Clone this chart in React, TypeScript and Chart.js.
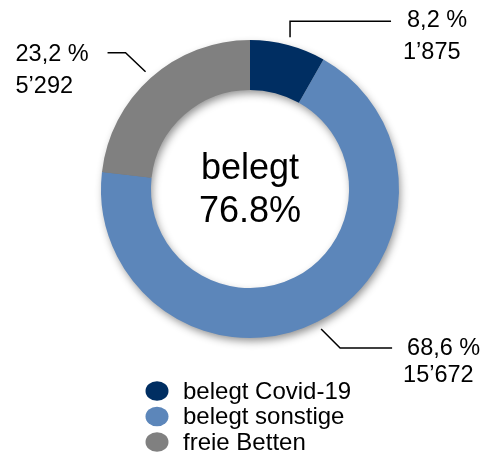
import React, { useEffect, useRef } from "react";
import { Chart, registerables } from "chart.js";

Chart.register(...registerables);

const categories = ["belegt Covid-19", "belegt sonstige", "freie Betten"];
const bedCounts = [1875, 15672, 5292];
const percentLabels = ["8,2 %", "68,6 %", "23,2 %"];
const countLabels = ["1’875", "15’672", "5’292"];
const centerLines = ["belegt", "76.8%"];
const colors = ["#002e62", "#5c86ba", "#808080"];

const FONT = "'Liberation Sans', Arial, sans-serif";

const shadowPlugin = {
  id: "ringShadow",
  beforeDatasetsDraw(chart: any) {
    const meta = chart.getDatasetMeta(0);
    const a = meta.data[0];
    if (!a) return;
    const { x, y, outerRadius, innerRadius } = a;
    const ctx = chart.ctx;
    ctx.save();
    ctx.shadowColor = "rgba(0,0,0,0.45)";
    ctx.shadowBlur = 9;
    ctx.shadowOffsetX = 2;
    ctx.shadowOffsetY = 4;
    ctx.fillStyle = "#777";
    ctx.beginPath();
    ctx.arc(x, y, outerRadius - 1, 0, Math.PI * 2);
    ctx.arc(x, y, innerRadius + 1, 0, Math.PI * 2, true);
    ctx.closePath();
    ctx.fill("evenodd");
    ctx.restore();
  },
};

const annotPlugin = {
  id: "annot",
  afterDraw(chart: any) {
    const ctx = chart.ctx;
    const meta = chart.getDatasetMeta(0);
    const arcs = meta.data;
    if (!arcs.length) return;
    const cx = arcs[0].x;
    const cy = arcs[0].y;
    const R = arcs[0].outerRadius;

    // center text
    ctx.save();
    ctx.fillStyle = "#000";
    ctx.textAlign = "center";
    ctx.textBaseline = "alphabetic";
    ctx.font = `36px ${FONT}`;
    ctx.fillText(centerLines[0], cx, cy - 10);
    ctx.fillText(centerLines[1], cx, cy + 33);
    ctx.restore();

    // leader lines and labels
    const mid = (i: number) => (arcs[i].startAngle + arcs[i].endAngle) / 2;
    const startPt = (i: number) => {
      const m = mid(i);
      return { x: cx + Math.cos(m) * (R + 8), y: cy + Math.sin(m) * (R + 8) };
    };
    ctx.save();
    ctx.strokeStyle = "#000";
    ctx.lineWidth = 1.5;
    ctx.fillStyle = "#000";
    ctx.font = `23.5px ${FONT}`;
    ctx.textAlign = "left";
    ctx.textBaseline = "alphabetic";

    // segment 0 (navy) top-right
    let p = startPt(0);
    ctx.beginPath();
    ctx.moveTo(p.x, p.y);
    ctx.lineTo(p.x, p.y - 16);
    ctx.lineTo(p.x + 101, p.y - 16);
    ctx.stroke();
    ctx.fillText(percentLabels[0], p.x + 117, p.y - 10);
    ctx.fillText(countLabels[0], p.x + 113, p.y + 22);

    // segment 1 (blue) bottom-right
    p = startPt(1);
    ctx.beginPath();
    ctx.moveTo(p.x, p.y);
    ctx.lineTo(p.x + 19, p.y + 19);
    ctx.lineTo(p.x + 71, p.y + 19);
    ctx.stroke();
    ctx.fillText(percentLabels[1], p.x + 86, p.y + 26);
    ctx.fillText(countLabels[1], p.x + 82, p.y + 53);

    // segment 2 (gray) top-left
    p = startPt(2);
    ctx.beginPath();
    ctx.moveTo(p.x, p.y);
    ctx.lineTo(p.x - 20, p.y - 19);
    ctx.lineTo(p.x - 38, p.y - 19);
    ctx.stroke();
    ctx.fillText(percentLabels[2], p.x - 130, p.y - 11);
    ctx.fillText(countLabels[2], p.x - 130, p.y + 21);
    ctx.restore();

    // legend
    ctx.save();
    ctx.font = `24px ${FONT}`;
    ctx.textAlign = "left";
    ctx.textBaseline = "alphabetic";
    const lx = 157;
    const ly0 = 391;
    const step = 25.5;
    categories.forEach((c, i) => {
      const y = ly0 + i * step;
      ctx.fillStyle = colors[i];
      ctx.beginPath();
      ctx.ellipse(lx, y, 11.5, 9.8, 0, 0, Math.PI * 2);
      ctx.fill();
      ctx.fillStyle = "#000";
      ctx.fillText(c, 183, y + 7.5);
    });
    ctx.restore();
  },
};

export default function App() {
  const ref = useRef<HTMLCanvasElement | null>(null);
  useEffect(() => {
    if (!ref.current) return;
    const chart = new Chart(ref.current, {
      type: "doughnut",
      data: {
        labels: categories,
        datasets: [
          {
            data: bedCounts,
            backgroundColor: colors,
            borderWidth: 0,
          },
        ],
      },
      options: {
        animation: false,
        responsive: true,
        maintainAspectRatio: false,
        cutout: "66.5%",
        layout: { padding: { left: 101, right: 92, top: 40, bottom: 117 } },
        plugins: {
          legend: { display: false },
          tooltip: { enabled: false },
        },
      },
      plugins: [shadowPlugin, annotPlugin],
    });
    return () => chart.destroy();
  }, []);
  return (
    <div style={{ position: "absolute", left: 0, top: 0, width: 491, height: 455, background: "#fff" }}>
      <canvas ref={ref} />
    </div>
  );
}
